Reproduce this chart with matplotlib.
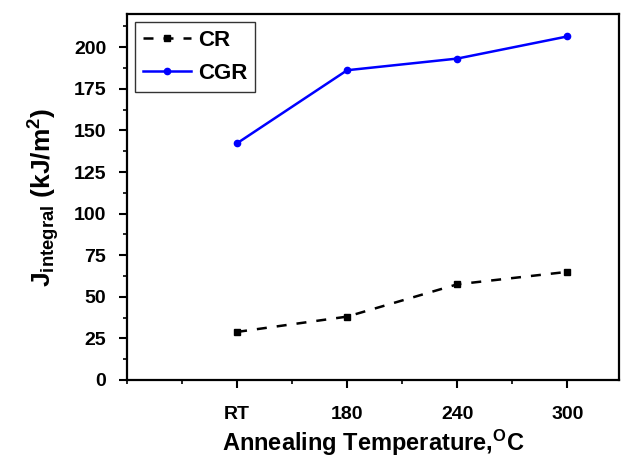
import matplotlib
matplotlib.use("Agg")
import matplotlib.pyplot as plt
from matplotlib.ticker import MultipleLocator

plt.rcParams['font.family'] = ['Liberation Sans', 'DejaVu Sans']
plt.rcParams['font.weight'] = 'bold'
plt.rcParams['mathtext.fontset'] = 'custom'
plt.rcParams['mathtext.rm'] = 'Liberation Sans:bold'
plt.rcParams['mathtext.default'] = 'rm'

temps = ["RT", "180", "240", "300"]
cr = [28.9, 38.1, 57.5, 65.0]
cgr = [142.3, 186.2, 193.2, 206.5]

x = list(range(len(temps)))

fig = plt.figure(figsize=(6.21, 4.62), dpi=100)
ax = fig.add_axes([0.2045, 0.1775, 0.7923, 0.7922])

ax.plot(x, cr, color='black', linestyle=(0, (4, 4)), linewidth=1.8,
        marker='s', markersize=5, label='CR')
ax.plot(x, cgr, color='blue', linestyle='-', linewidth=1.8,
        marker='o', markersize=4.5, label='CGR')

ax.set_xlim(-1, 3.47)
ax.set_ylim(0, 220)
ax.set_xticks(x)
ax.set_xticklabels(temps)
ax.xaxis.set_minor_locator(MultipleLocator(0.5))
ax.yaxis.set_minor_locator(MultipleLocator(12.5))
ax.set_yticks([0, 25, 50, 75, 100, 125, 150, 175, 200])

ax.tick_params(which='major', direction='out', length=6, width=1.5, labelsize=14)
ax.tick_params(axis='y', which='major', pad=9)
ax.tick_params(axis='x', which='major', pad=13)
ax.tick_params(which='minor', direction='out', length=3, width=1.2)
for sp in ax.spines.values():
    sp.set_linewidth(1.6)

ax.set_xlabel(r'Annealing Temperature,$^{\mathregular{O}}$C', fontsize=17, fontweight='bold', labelpad=3)
ax.set_ylabel(r'J$_{\mathregular{integral}}$ (kJ/m$^{\mathregular{2}}$)', fontsize=19, fontweight='bold', labelpad=8)

leg = ax.legend(loc='upper left', fontsize=16, frameon=True, fancybox=False,
                edgecolor='black', handlelength=2.2, borderaxespad=0.35,
                borderpad=0.35, labelspacing=0.55, handletextpad=0.3)
leg.get_frame().set_linewidth(1.0)

fig.savefig("out.png", dpi=100)
